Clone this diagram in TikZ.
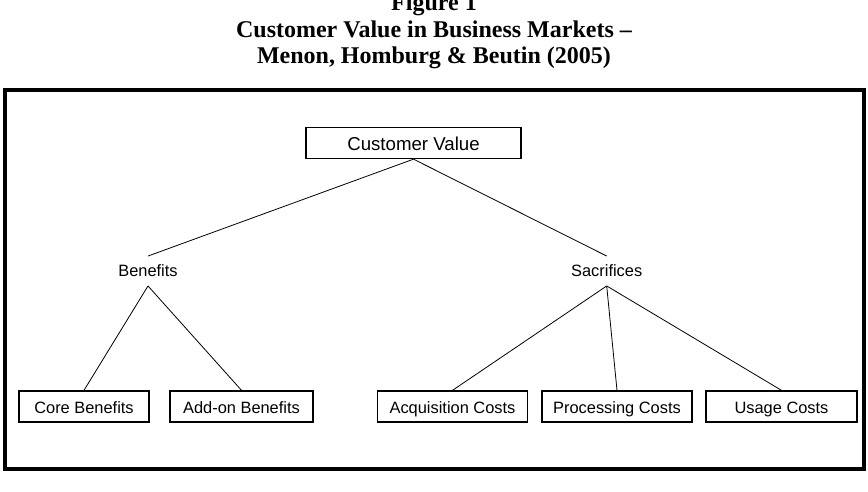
\documentclass[tikz,border=0pt]{standalone}
\usepackage{fontspec}
\setmainfont{Liberation Serif}
\newfontfamily\cvsans{Liberation Sans}
\usetikzlibrary{positioning}
\definecolor{cvink}{HTML}{000000}
\tikzset{
  cvbox/.style={
    draw=cvink, line width=1pt, minimum height=23.25pt, inner sep=0pt,
    text height=12.2pt, text depth=2.4pt,
    font=\cvsans\fontsize{12.3}{14}\selectfont, text=cvink},
  cvlabel/.style={
    inner sep=6.5pt, font=\cvsans\fontsize{12.3}{14}\selectfont, text=cvink},
  cvline/.style={draw=cvink, line width=0.6pt},
  cvframe/.style={draw=cvink, line width=2.3pt},
  cvtitle/.style={
    align=center, font=\bfseries\fontsize{18}{19.9}\selectfont, text=cvink},
}
\begin{document}
\begin{tikzpicture}[x=0.75pt, y=-0.75pt]
\useasboundingbox (0,0) rectangle (868,492);

% Heading above the frame.
\node[cvtitle, anchor=base] (title) at (434, 64)
  {Figure 1\\Customer Value in Business Markets --\\Menon, Homburg \& Beutin (2005)};

% Outer frame.
\draw[cvframe] (5, 90) rectangle (864, 469);

% Top level.
\node[cvbox, minimum width=161.25pt, text height=14.4pt,
      font=\cvsans\fontsize{14}{16}\selectfont] (value) at (413.5, 143) {Customer Value};

% Second level.
\node[cvlabel] (benefits) at (148, 271) {Benefits};
\node[cvlabel] (sacrifices) at (606.7, 271) {Sacrifices};

% Bottom row.
\node[cvbox, minimum width=97.5pt] (core) at (84, 406.5) {Core Benefits};
\node[cvbox, minimum width=107.25pt] (addon) at (241.5, 406.5) {Add-on Benefits};
\node[cvbox, minimum width=112.5pt] (acquisition) at (452.5, 406.5) {Acquisition Costs};
\node[cvbox, minimum width=112.5pt] (processing) at (617, 406.5) {Processing Costs};
\node[cvbox, minimum width=113.25pt] (usage) at (781.5, 406.5) {Usage Costs};

% Connectors.
\draw[cvline] (value.south) -- (benefits.north);
\draw[cvline] (value.south) -- (sacrifices.north);
\draw[cvline] (benefits.south) -- (core.north);
\draw[cvline] (benefits.south) -- (addon.north);
\draw[cvline] (sacrifices.south) -- (acquisition.north);
\draw[cvline] (sacrifices.south) -- (processing.north);
\draw[cvline] (sacrifices.south) -- (usage.north);

\end{tikzpicture}
\end{document}
